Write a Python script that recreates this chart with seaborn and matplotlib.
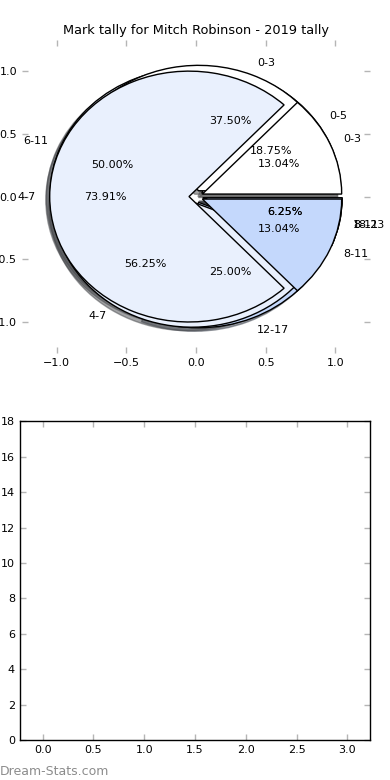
import numpy as np
import seaborn as sns
import matplotlib
matplotlib.use('Agg')
import matplotlib.pyplot as plt

# mark tally data (three overlaid pies, as in the original page)
labels_a = ['0-5', '6-11', '12-17', '18-23']
counts_a = [3, 8, 4, 1]
labels_b = ['0-3', '4-7', '8-11']
counts_b = [6, 9, 1]
labels_c = ['0-3', '4-7', '8-11']
counts_c = [3, 17, 3]

slice_colors = ['#ffffff', '#e9f0fd', '#c4d8fc', '#a3a38c']

# bottom panel limits / ticks
bar_xticks = [0.0, 0.5, 1.0, 1.5, 2.0, 2.5, 3.0]
bar_yticks = [0, 2, 4, 6, 8, 10, 12, 14, 16, 18]

sns.set_theme(style='white', rc={
    'xtick.direction': 'in', 'ytick.direction': 'in',
    'xtick.top': True, 'ytick.right': True,
    'xtick.bottom': True, 'ytick.left': True,
    'xtick.major.size': 4, 'ytick.major.size': 4,
    'xtick.major.width': 1, 'ytick.major.width': 1,
    'xtick.color': '#b5b5b5', 'ytick.color': '#b5b5b5',
    'xtick.labelcolor': 'black', 'ytick.labelcolor': 'black',
    'text.color': 'black', 'axes.labelcolor': 'black',
    'axes.edgecolor': 'black', 'axes.linewidth': 1,
    'font.size': 8, 'xtick.labelsize': 8, 'ytick.labelsize': 8,
})
plt.rcParams['font.family'] = ['DejaVu Sans']

palette = sns.color_palette(slice_colors)

fig = plt.figure(figsize=(3.9, 7.8), dpi=100)
ax1 = fig.add_axes([0.056, 0.547, 0.893, 0.402])
ax2 = fig.add_axes([0.051, 0.051, 0.898, 0.409])

for counts, labels in [(counts_a, labels_a), (counts_b, labels_b), (counts_c, labels_c)]:
    wedges, texts, autotexts = ax1.pie(
        counts, labels=labels, colors=palette[:len(counts)],
        explode=[0.05] * len(counts), autopct='%1.2f%%', shadow=True,
        wedgeprops={'edgecolor': 'black', 'linewidth': 1},
        textprops={'fontsize': 8, 'color': 'black'})

ax1.set_aspect('auto')
ax1.set_xlim(-1.25, 1.25)
ax1.set_ylim(-1.25, 1.25)
ax1.set_xticks([-1.0, -0.5, 0.0, 0.5, 1.0])
ax1.set_yticks([-1.0, -0.5, 0.0, 0.5, 1.0])
ax1.set_title('Mark tally for Mitch Robinson - 2019 tally', fontsize=9.3,
              color='black', pad=4)

ax2.set_xlim(-0.225, 3.225)
ax2.set_ylim(0, 18)
ax2.set_xticks(bar_xticks)
ax2.set_yticks(bar_yticks)
for s in ax2.spines.values():
    s.set_visible(True)
    s.set_color('black')

fig.text(0.0, 0.003, 'Dream-Stats.com', color='#8c8c8c', fontsize=9,
         ha='left', va='bottom')

fig.savefig('out.png', dpi=100)
